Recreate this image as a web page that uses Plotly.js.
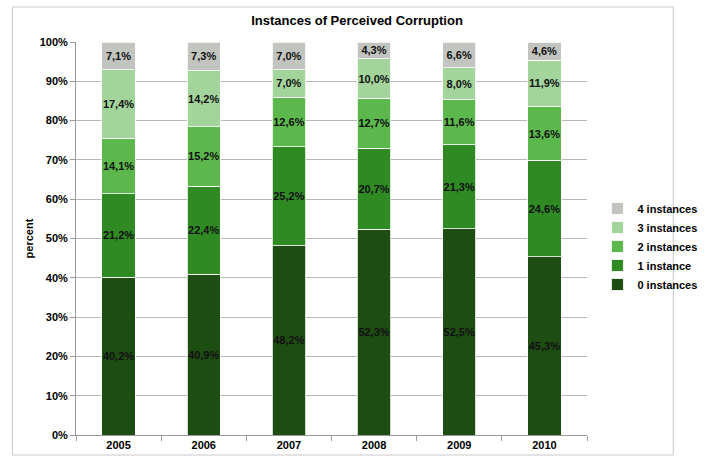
<!DOCTYPE html>
<html>
<head>
<meta charset="utf-8">
<script src="https://cdn.plot.ly/plotly-3.0.1.min.js"></script>
<style>html,body{margin:0;padding:0;background:#fff;}#chart{width:714px;height:457px;}</style>
</head>
<body>
<div id="chart"></div>
<script>
const years = ['2005', '2006', '2007', '2008', '2009', '2010'];
const seriesNames = ['0 instances', '1 instance', '2 instances', '3 instances', '4 instances'];
const inst0 = [40.2, 40.9, 48.2, 52.3, 52.5, 45.3];
const inst1 = [21.2, 22.4, 25.2, 20.7, 21.3, 24.6];
const inst2 = [14.1, 15.2, 12.6, 12.7, 11.6, 13.6];
const inst3 = [17.4, 14.2, 7.0, 10.0, 8.0, 11.9];
const inst4 = [7.1, 7.3, 7.0, 4.3, 6.6, 4.6];
const yTicks = [0, 10, 20, 30, 40, 50, 60, 70, 80, 90, 100];

const seriesValues = [inst0, inst1, inst2, inst3, inst4];
const colors = ['#1e4d14', '#2f8a24', '#5cb84c', '#a3d49b', '#c2c5bf'];
const FONT = 'Liberation Sans, Arial, sans-serif';
const fmt = v => v.toFixed(1).replace('.', ',') + '%';

const traces = seriesValues.map((vals, i) => ({
  type: 'bar',
  name: seriesNames[i],
  x: years,
  y: vals,
  text: vals.map(fmt),
  textposition: 'inside',
  insidetextanchor: 'middle',
  textangle: 0,
  constraintext: 'none',
  textfont: {family: FONT, size: 11, color: '#111', weight: 'bold'},
  marker: {color: colors[i], line: {color: 'rgba(255,255,255,0.8)', width: 1}},
  hoverinfo: 'none'
}));

const L = 76, R = 615, T = 42, B = 435;
const W = R - L, H = B - T;

const layout = {
  width: 714, height: 457,
  margin: {l: L, r: 714 - R, t: T, b: 457 - B, pad: 0},
  paper_bgcolor: '#ffffff', plot_bgcolor: '#ffffff',
  barmode: 'stack',
  bargap: 0.61,
  showlegend: true,
  title: {
    text: 'Instances of Perceived Corruption',
    font: {family: FONT, size: 13, color: '#000', weight: 'bold'},
    x: 0.5, xanchor: 'center', xref: 'container',
    y: 1 - 20 / 457, yanchor: 'middle', yref: 'container'
  },
  xaxis: {
    type: 'category',
    tickson: 'boundaries',
    ticks: 'outside', ticklen: 5, tickcolor: '#999',
    showline: true, linecolor: '#999', linewidth: 1,
    showgrid: false,
    tickfont: {family: FONT, size: 11, color: '#000', weight: 'bold'},
    fixedrange: true
  },
  yaxis: {
    range: [0, 100],
    tickvals: yTicks,
    ticktext: yTicks.map(v => v + '%'),
    ticks: 'outside', ticklen: 5, tickcolor: '#999',
    showline: true, linecolor: '#999', linewidth: 1,
    showgrid: true, gridcolor: '#b8b8b8', gridwidth: 1,
    zeroline: false,
    tickfont: {family: FONT, size: 11, color: '#000', weight: 'bold'},
    title: {text: 'percent', font: {family: FONT, size: 11, color: '#000', weight: 'bold'}, standoff: 3},
    fixedrange: true
  },
  legend: {
    x: (626 - L) / W, xanchor: 'left',
    y: (B - 194) / H, yanchor: 'top',
    traceorder: 'reversed',
    font: {family: FONT, size: 11, color: '#000', weight: 'bold'},
    itemwidth: 30,
    tracegroupgap: 0,
    bgcolor: 'rgba(0,0,0,0)'
  },
  shapes: [{
    type: 'rect', xref: 'paper', yref: 'paper',
    x0: (9 - L) / W, x1: (706 - L) / W,
    y0: (B - 455) / H, y1: (B - 7) / H,
    line: {color: '#c8c8c8', width: 1}, fillcolor: 'rgba(0,0,0,0)', layer: 'below'
  }]
};

Plotly.newPlot('chart', traces, layout, {displayModeBar: false, staticPlot: true});
</script>
</body>
</html>
